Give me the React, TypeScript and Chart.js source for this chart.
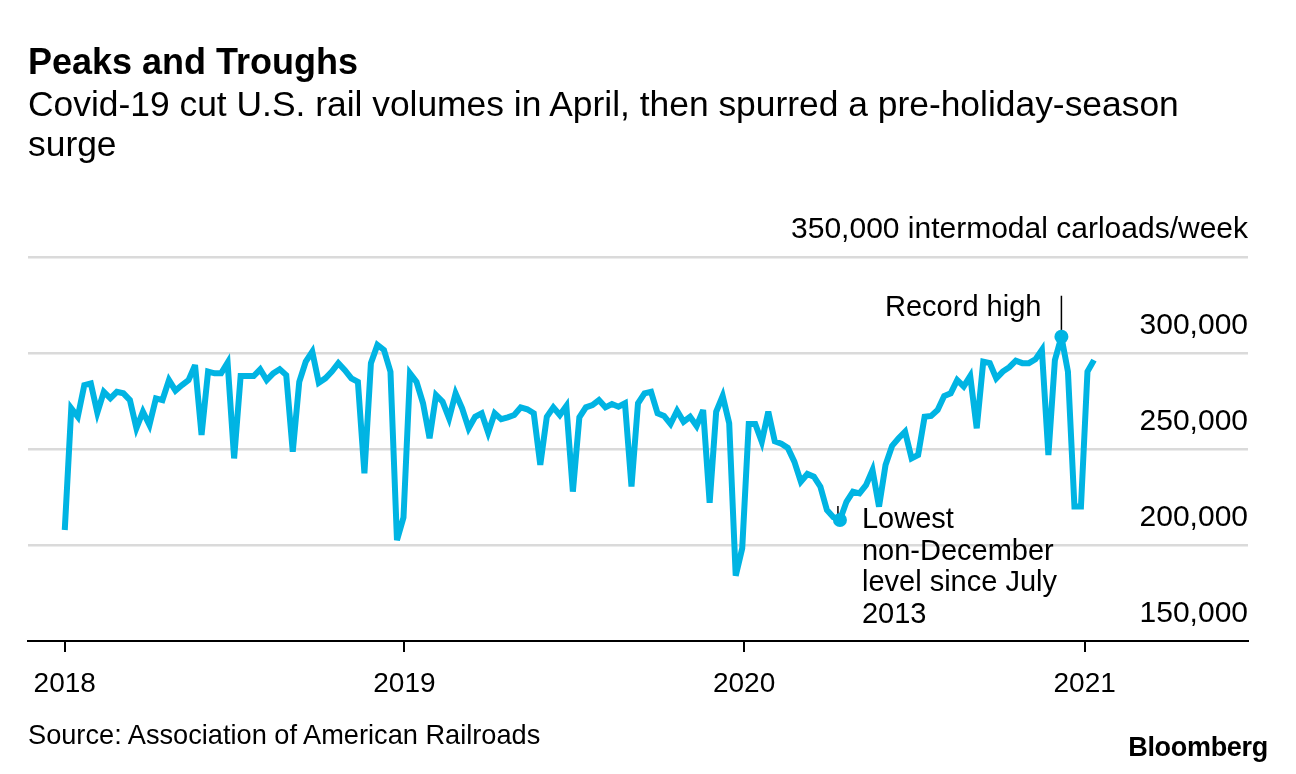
import React, { useEffect, useRef } from 'react';
import { Chart, registerables } from 'chart.js';

Chart.register(...registerables);

const FONT = '"Liberation Sans", Arial, Helvetica, sans-serif';
const CYAN = '#00b4e3';

// x axis: days since 1 Jan 2018
const yearTickDays = [0, 365, 730, 1096];
const yearTickLabels = ['2018', '2019', '2020', '2021'];
const firstWeekDay = 0;

// weekly U.S. intermodal carloads, Jan 2018 – mid Jan 2021
const weeklyCarloads = [
  207800, 271200, 266800, 283300, 284200, 268900, 279800, 276400, 279800, 279000,
  275500, 260800, 269400, 262500, 276400, 275500, 285900, 280400, 283300, 285900,
  293700, 257300, 290300, 289400, 289400, 295000, 245100, 288000, 288000, 288000,
  291500, 285900, 289400, 291500, 288500, 248600, 285000, 295500, 300700, 284500,
  286800, 290300, 294700, 291100, 286800, 285000, 237300, 294700, 304200, 301600,
  290300, 202500, 214300, 289400, 285000, 273800, 255600, 278100, 274700, 266000,
  279000, 271200, 260800, 266800, 268600, 258500, 268600, 265500, 266500, 267700,
  271700, 270700, 268600, 241700, 266800, 271700, 267700, 272400, 227800, 266500,
  271700, 272900, 275500, 271700, 273400, 272000, 273800, 230400, 273800, 279000,
  279800, 268600, 267200, 263000, 269900, 264200, 266800, 262000, 270300, 222000,
  269400, 277600, 263400, 184000, 198300, 263000, 263000, 253800, 269400, 254000,
  252700, 250600, 243400, 233000, 237000, 235600, 230400, 218200, 214500, 213000,
  222500, 227800, 226900, 231200, 239000, 220000, 241700, 251600, 255600, 259000,
  245100, 246900, 266800, 267200, 270300, 277600, 279000, 285900, 282600, 288000,
  260800, 295500, 294700, 286800, 290300, 292600, 296000, 294700, 294700, 296700,
  301600, 246900, 296300, 308500, 290300, 220000, 220000, 290300, 296300,
];

const yMin = 150000;
const yMax = 350000;
const yStep = 50000;
const yUnitLabel = 'intermodal carloads/week';

const lowIndex = 119;
const highIndex = 153;
const recordLabel = 'Record high';
const lowLabelLines = ['Lowest', 'non-December', 'level since July', '2013'];

const annotationPlugin = {
  id: 'annotations',
  beforeDatasetsDraw(chart: any) {
    const ctx = chart.ctx;
    const meta = chart.getDatasetMeta(0);
    const hi = meta.data[highIndex];
    const lo = meta.data[lowIndex];
    ctx.save();
    ctx.strokeStyle = '#000';
    ctx.lineWidth = 1.5;
    ctx.beginPath();
    ctx.moveTo(hi.x, hi.y - 41);
    ctx.lineTo(hi.x, hi.y);
    ctx.moveTo(lo.x - 2, lo.y - 14);
    ctx.lineTo(lo.x - 2, lo.y);
    ctx.stroke();
    ctx.restore();
    ctx.miterLimit = 4;
  },
  afterDatasetsDraw(chart: any) {
    const ctx = chart.ctx;
    const meta = chart.getDatasetMeta(0);
    const hi = meta.data[highIndex];
    const lo = meta.data[lowIndex];
    ctx.save();
    ctx.fillStyle = '#000';
    ctx.font = `29px ${FONT}`;
    ctx.textBaseline = 'alphabetic';
    ctx.textAlign = 'right';
    ctx.fillText(recordLabel, hi.x - 20, hi.y - 21);
    ctx.textAlign = 'left';
    lowLabelLines.forEach((line, k) => {
      ctx.fillText(line, lo.x + 22, lo.y + 8 + k * 31.7);
    });
    ctx.restore();
  },
};

export default function App() {
  const canvasRef = useRef<HTMLCanvasElement | null>(null);

  useEffect(() => {
    if (!canvasRef.current) return;
    Chart.defaults.font.family = FONT;
    Chart.defaults.color = '#000';
    const points = weeklyCarloads.map((v, i) => ({ x: firstWeekDay + 7 * i, y: v }));
    const chart = new Chart(canvasRef.current, {
      type: 'line',
      data: {
        datasets: [
          {
            data: points,
            borderColor: CYAN,
            backgroundColor: CYAN,
            borderWidth: 6,
            borderJoinStyle: 'miter',
            borderCapStyle: 'butt',
            tension: 0,
            pointRadius: (c: any) => (c.dataIndex === lowIndex || c.dataIndex === highIndex ? 7 : 0),
            pointHoverRadius: 0,
            pointBorderWidth: 0,
            pointBackgroundColor: CYAN,
            clip: false as any,
          },
        ],
      },
      options: {
        animation: false,
        responsive: false,
        devicePixelRatio: 1,
        events: [],
        layout: { padding: { left: 28, right: 48, top: 257, bottom: 73 } },
        plugins: { legend: { display: false }, tooltip: { enabled: false }, title: { display: false } },
        scales: {
          x: {
            type: 'linear',
            min: -39.5,
            max: 1271.5,
            afterBuildTicks: (scale: any) => {
              scale.ticks = yearTickDays.map((v) => ({ value: v }));
            },
            afterFit: (scale: any) => {
              scale.height = 60;
            },
            ticks: {
              autoSkip: false,
              maxRotation: 0,
              padding: 15,
              color: '#000',
              font: { size: 28 },
              callback: (v: any) => {
                const i = yearTickDays.indexOf(Number(v));
                return i >= 0 ? yearTickLabels[i] : '';
              },
            },
            grid: {
              display: true,
              drawOnChartArea: false,
              drawTicks: true,
              tickLength: 11,
              color: '#000',
              lineWidth: 2,
            },
            border: { display: true, color: '#000', width: 2 },
          },
          y: {
            type: 'linear',
            position: 'right',
            min: yMin,
            max: yMax,
            afterFit: (scale: any) => {
              scale.width = 0;
            },
            ticks: {
              stepSize: yStep,
              mirror: true,
              padding: 0,
              labelOffset: -27,
              color: '#000',
              font: { size: 30 },
              callback: (v: any) => {
                const n = Number(v);
                const s = n.toLocaleString('en-US');
                return n === yMax ? `${s} ${yUnitLabel}` : s;
              },
            },
            grid: {
              drawTicks: false,
              lineWidth: 2.5,
              color: (c: any) => (c.tick && c.tick.value === yMin ? 'rgba(0,0,0,0)' : '#dadada'),
            },
            border: { display: false },
          },
        },
      },
      plugins: [annotationPlugin],
    } as any);
    return () => chart.destroy();
  }, []);

  return (
    <div
      style={{
        position: 'fixed',
        left: 0,
        top: 0,
        width: 1296,
        height: 774,
        background: '#fff',
        fontFamily: FONT,
        color: '#000',
        overflow: 'hidden',
      }}
    >
      <canvas
        ref={canvasRef}
        width={1296}
        height={774}
        style={{ position: 'absolute', left: 0, top: 0, width: 1296, height: 774 }}
      />
      <div
        style={{
          position: 'absolute',
          left: 28,
          top: 44,
          fontSize: 36,
          lineHeight: '36px',
          fontWeight: 700,
          whiteSpace: 'nowrap',
        }}
      >
        Peaks and Troughs
      </div>
      <div
        style={{
          position: 'absolute',
          left: 28,
          top: 84,
          fontSize: 35.4,
          lineHeight: '40px',
          whiteSpace: 'nowrap',
        }}
      >
        Covid-19 cut U.S. rail volumes in April, then spurred a pre-holiday-season
        <br />
        surge
      </div>
      <div
        style={{
          position: 'absolute',
          left: 28,
          top: 721,
          fontSize: 27.2,
          lineHeight: '27px',
          whiteSpace: 'nowrap',
        }}
      >
        Source: Association of American Railroads
      </div>
      <div
        style={{
          position: 'absolute',
          right: 28,
          top: 734,
          fontSize: 27,
          lineHeight: '27px',
          fontWeight: 700,
          letterSpacing: -0.3,
          whiteSpace: 'nowrap',
        }}
      >
        Bloomberg
      </div>
    </div>
  );
}
